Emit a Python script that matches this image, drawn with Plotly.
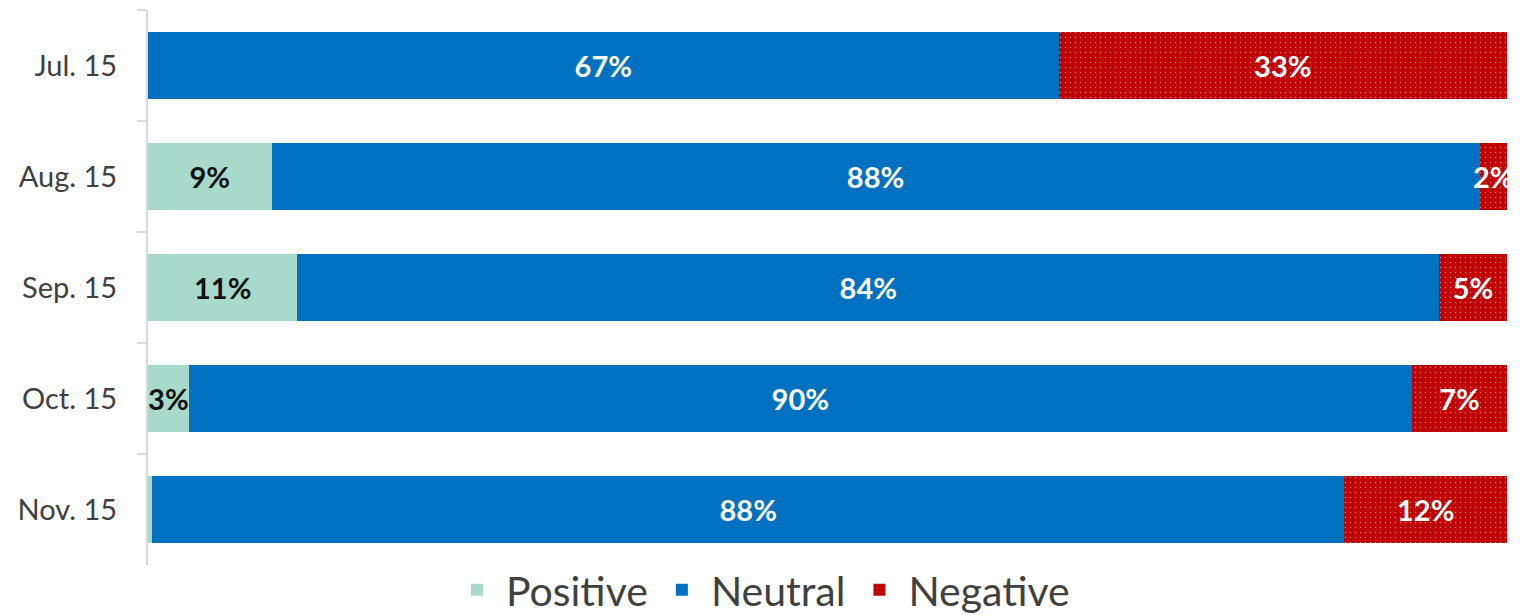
import plotly.graph_objects as go

# Monthly sentiment shares (%)
months = ["Jul. 15", "Aug. 15", "Sep. 15", "Oct. 15", "Nov. 15"]
positive = [0, 9, 11, 3, 0.3]
neutral = [67, 88, 84, 90, 88]
negative = [33, 2, 5, 7, 12]

positive_labels = ["", "9%", "11%", "3%", ""]
neutral_labels = [f"{v}%" for v in neutral]
negative_labels = [f"{v}%" for v in negative]

FONT = "Lato"
LABEL_SIZE = 29

fig = go.Figure()

fig.add_trace(go.Bar(
    name="Positive", y=months, x=positive, orientation="h",
    marker=dict(color="#a9d9cb", line=dict(width=0)),
    text=positive_labels, textposition="inside", insidetextanchor="middle",
    constraintext="none", textangle=0,
    textfont=dict(family=FONT, size=LABEL_SIZE, color="#111111", weight="bold"),
    hoverinfo="skip",
))
fig.add_trace(go.Bar(
    name="Neutral", y=months, x=neutral, orientation="h",
    marker=dict(color="#0070c0", line=dict(width=0)),
    text=neutral_labels, textposition="inside", insidetextanchor="middle",
    constraintext="none", textangle=0,
    textfont=dict(family=FONT, size=LABEL_SIZE, color="white", weight="bold"),
    hoverinfo="skip",
))
fig.add_trace(go.Bar(
    name="Negative", y=months, x=negative, orientation="h",
    marker=dict(color="#c00000", line=dict(width=0),
                pattern=dict(shape=".", fgcolor="#ffffff", bgcolor="#c00000",
                             size=5, solidity=0.07)),
    text=negative_labels, textposition="inside", insidetextanchor="middle",
    constraintext="none", textangle=0,
    textfont=dict(family=FONT, size=LABEL_SIZE, color="white", weight="bold"),
    hoverinfo="skip",
))

fig.update_layout(
    barmode="stack",
    barnorm="percent",
    bargap=0.39,
    width=1523, height=615,
    margin=dict(l=148, r=16, t=10, b=50, autoexpand=False),
    paper_bgcolor="white",
    plot_bgcolor="white",
    font=dict(family=FONT, color="#404040"),
    showlegend=True,
    legend=dict(
        orientation="h", xref="container", x=0.5, xanchor="center",
        yref="paper", y=-0.045, yanchor="middle",
        font=dict(size=41, color="#404040", family=FONT),
        itemwidth=48, traceorder="normal",
    ),
    xaxis=dict(range=[0, 100], visible=False, fixedrange=True),
    yaxis=dict(
        autorange="reversed", showline=True, linecolor="#d9d9d9", linewidth=2,
        ticks="outside", tickson="boundaries", ticklen=9, tickcolor="#d9d9d9",
        tickwidth=2, showgrid=False,
        tickfont=dict(size=29, color="#404040", family=FONT),
        ticklabelstandoff=23,
    ),
)

fig.write_html("out.html")
